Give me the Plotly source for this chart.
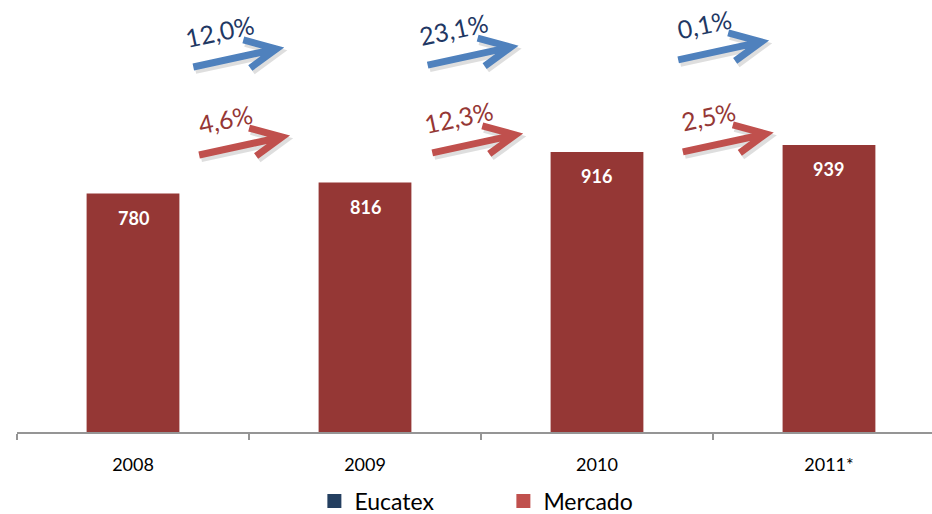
import plotly.graph_objects as go

# ---- data ----
years = ["2008", "2009", "2010", "2011*"]
mercado = [780, 816, 916, 939]
eucatex_growth = ["12,0%", "23,1%", "0,1%"]
mercado_growth = ["4,6%", "12,3%", "2,5%"]

# ---- styles ----
BAR = "#953735"
RED_LEG = "#C0504D"
BLUE_LEG = "#243F60"
BLUE_ARROW = "#4F81BD"
RED_ARROW = "#C0504D"
BLUE_TXT = "#1F3864"
RED_TXT = "#953735"
AXIS = "#959595"
FONT = "Lato"
YMAX = 1413

# arrow anchor positions (start of the arrow shaft), data coords
blue_pos = [(0.26, 1194), (1.27, 1200), (2.35, 1217)]
red_pos = [(0.285, 906), (1.29, 913), (2.37, 916)]

x = list(range(len(years)))

fig = go.Figure()
fig.add_trace(go.Bar(x=x, y=mercado, width=0.4, marker=dict(color=BAR, line=dict(width=0)),
                     showlegend=False, hoverinfo="skip"))
fig.add_trace(go.Scatter(x=[None], y=[None], mode="markers", name="Eucatex",
                         marker=dict(symbol="square", size=14, color=BLUE_LEG)))
fig.add_trace(go.Scatter(x=[None], y=[None], mode="markers", name="Mercado",
                         marker=dict(symbol="square", size=14, color=RED_LEG)))

annotations = []
for xi, v in zip(x, mercado):
    annotations.append(dict(x=xi, y=v, text=f"<b>{v}</b>", showarrow=False, yshift=-24,
                            font=dict(family=FONT, size=18, color="white")))

shapes = []
ARROW_PATH = "M 0,0 L 83,18 M 50,27 L 83,18 L 57,-1"
SHADOW_PATH = "M 2,-3 L 85,15 M 52,24 L 85,15 L 59,-4"


def add_arrow(px, py, color, label, tcolor):
    shapes.append(dict(type="path", xref="x", yref="y", xsizemode="pixel", ysizemode="pixel",
                       xanchor=px, yanchor=py, path=SHADOW_PATH,
                       line=dict(color="rgba(0,0,0,0.13)", width=8)))
    shapes.append(dict(type="path", xref="x", yref="y", xsizemode="pixel", ysizemode="pixel",
                       xanchor=px, yanchor=py, path=ARROW_PATH,
                       line=dict(color=color, width=7)))
    annotations.append(dict(x=px, y=py, text=label, showarrow=False, xshift=26, yshift=36,
                            textangle=-12, font=dict(family=FONT, size=25, color=tcolor)))


for (px, py), g in zip(blue_pos, eucatex_growth):
    add_arrow(px, py, BLUE_ARROW, g, BLUE_TXT)
for (px, py), g in zip(red_pos, mercado_growth):
    add_arrow(px, py, RED_ARROW, g, RED_TXT)

fig.update_layout(
    width=932, height=514,
    margin=dict(l=17, r=0, t=0, b=82),
    plot_bgcolor="white", paper_bgcolor="white",
    barmode="overlay",
    xaxis=dict(range=[-0.5, 3.444], tickmode="array", tickvals=x, ticktext=years,
               ticks="", showline=True, linecolor=AXIS, linewidth=1.5,
               showgrid=False, zeroline=False, ticklabelstandoff=16,
               tickfont=dict(family=FONT, size=18, color="black"),
               minor=dict(tickmode="array", tickvals=[-0.5, 0.5, 1.5, 2.5, 3.5],
                          ticks="outside", ticklen=6, tickcolor=AXIS, tickwidth=1.5)),
    yaxis=dict(range=[0, YMAX], visible=False),
    legend=dict(orientation="h", xref="paper", x=0.325, xanchor="left",
                yref="container", y=0.0253, yanchor="middle",
                entrywidth=144, font=dict(family=FONT, size=23, color="black")),
    annotations=annotations,
    shapes=shapes,
)

fig.write_html("out.html", config={"displayModeBar": False},
               post_script="document.body.style.margin='0';")
